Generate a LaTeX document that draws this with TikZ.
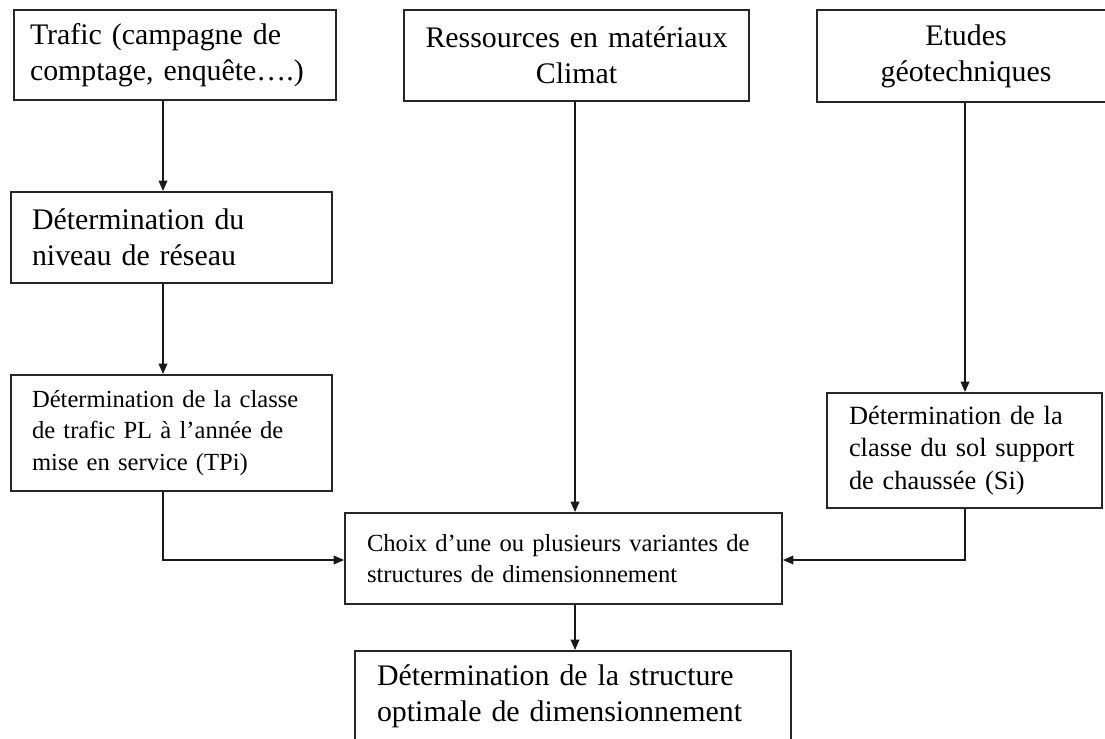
\documentclass[tikz,border=0pt]{standalone}
\usepackage{fontspec}
\setmainfont{Liberation Serif}
\usepackage{tikz}
\usetikzlibrary{arrows.meta,calc}

\newcommand{\grande}{\fontsize{17}{20.4}\selectfont}
\newcommand{\moyenne}{\fontsize{15}{18.5}\selectfont}
\newcommand{\petite}{\fontsize{14}{18}\selectfont}

\tikzset{
    % Boxes with sharp corners
    boite/.style={
        rectangle,
        draw=black!85,
        line width=1pt,
        fill=white,
        text=black,
        inner xsep=0.42cm,
        inner ysep=0pt,
        align=left,
        font=\grande
    },
    boite centre/.style={
        boite,
        inner xsep=0.32cm,
        align=center
    },
    fleche/.style={
        -{Triangle[length=2.1mm,width=1.7mm]},
        line width=1.1pt,
        color=black!90
    }
}

\begin{document}
\begin{tikzpicture}[x=0.02cm, y=-0.02cm]
        \useasboundingbox (0,0) rectangle (1105,738);

        % Input data
        \node[boite, inner xsep=0.32cm, text width=5.8cm, minimum height=1.8cm] (trafic) at (175,55)
              {Trafic (campagne de\\comptage, enquête….)};
        \node[boite centre, text width=6.26cm, minimum height=1.82cm] (ressources) at (576.5,55.5)
              {Ressources en matériaux\\Climat};
        \node[boite centre, text width=5.32cm, minimum height=1.84cm] (etudes) at (966,56)
              {Etudes\\géotechniques};

        % Intermediate steps
        \node[boite, text width=5.58cm, minimum height=1.82cm] (niveau) at (171.5,237.5)
              {Détermination du\\niveau de réseau};
        \node[boite, text width=5.58cm, minimum height=2.32cm, font=\petite] (tpi) at (171.5,433)
              {Détermination de la classe\\de trafic PL à l’année de\\mise en service (TPi)};
        \node[boite, inner xsep=0.44cm, text width=4.62cm, minimum height=2.3cm, font=\moyenne] (sol) at (964.5,450.5)
              {Détermination de la\\classe du sol support\\de chaussée (Si)};

        % Choice and result
        \node[boite, inner xsep=0.44cm, text width=7.86cm, minimum height=1.82cm, font=\petite] (choix) at (563.5,558.5)
              {Choix d’une ou plusieurs variantes de\\structures de dimensionnement};
        \node[boite, inner xsep=0.44cm, text width=7.84cm, minimum height=1.8cm] (optimale) at (573,696)
              {Détermination de la structure\\optimale de dimensionnement};

        % Columns of the arrows
        \coordinate (colA) at (163,0);
        \coordinate (colB) at (575,0);
        \coordinate (colC) at (965,0);

        % Arrows
        \draw[fleche] (trafic.south -| colA) -- (niveau.north -| colA);
        \draw[fleche] (niveau.south -| colA) -- (tpi.north -| colA);
        \draw[fleche] (etudes.south -| colC) -- (sol.north -| colC);
        \draw[fleche] (ressources.south -| colB) -- (choix.north -| colB);
        \draw[fleche] (tpi.south -| colA) |- ($(choix.west)+(0,1.5)$);
        \draw[fleche] (sol.south -| colC) |- ($(choix.east)+(0,1.5)$);
        \draw[fleche] (choix.south -| colB) -- (optimale.north -| colB);
\end{tikzpicture}
\end{document}
